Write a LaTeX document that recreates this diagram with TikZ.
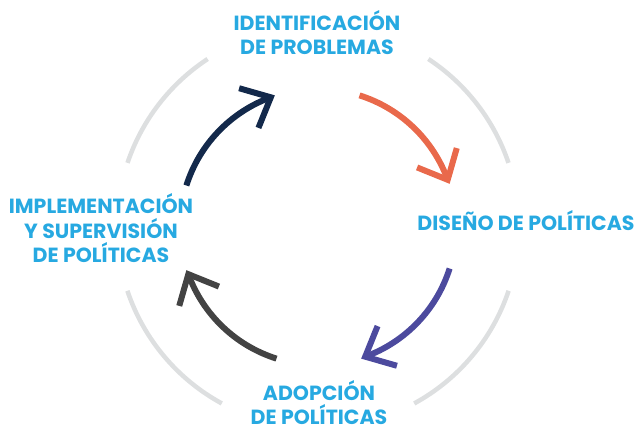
\documentclass[tikz,border=0pt]{standalone}
\usepackage{fontspec}
\setmainfont{Poppins}
\usetikzlibrary{calc}
\definecolor{navyc}{HTML}{13294B}
\definecolor{orangec}{HTML}{E9694B}
\definecolor{purplec}{HTML}{4C4A9E}
\definecolor{dgrayc}{HTML}{434343}
\definecolor{textblue}{HTML}{27A9E1}
\definecolor{ringgray}{HTML}{DDDFE0}
\tikzset{
  ringarc/.style={draw=ringgray, line width=4.5pt, line cap=butt},
  arrowline/.style={line width=6pt, line cap=butt, line join=miter},
  steplabel/.style={text=textblue, align=center, anchor=base, inner sep=0pt,
    font=\bfseries\fontsize{20.5}{24.8}\selectfont}
}
\begin{document}
\begin{tikzpicture}[x=1pt,y=1pt]
\useasboundingbox (0,0) rectangle (639,427);
\coordinate (C) at (318,200);
% light ring segments
\foreach \a/\b in {123.3/161.4, 18.6/56.7, 198.5/241.4, 298.6/341.5}{
  \draw[ringarc] ($(C)+(\a:201)$) arc[start angle=\a, end angle=\b, radius=201];
}
% cycle arrows
\foreach \s/\col/\n in {162.5/navyc/a, 72.5/orangec/b, -17.5/purplec/c, -107.5/dgrayc/d}{
  \pgfmathsetmacro\e{\s-52.5}
  \coordinate (s\n) at ($(C)+(\s:138)$);
  \coordinate (t\n) at ($(C)+(\e:138)$);
  \draw[arrowline, draw=\col] (s\n) arc[start angle=\s, end angle=\e, radius=138];
  \draw[arrowline, draw=\col] ($(t\n)+(\e+96+42:33)$) -- (t\n) -- ($(t\n)+(\e+96-42:33)$);
}
% labels (anchor = baseline of last line)
\node[steplabel] (ident) at (317,372) {IDENTIFICACIÓN\\DE PROBLEMAS};
\node[steplabel] (diseno) at (526,196) {DISEÑO DE POLÍTICAS};
\node[steplabel] (adop) at (319,2) {ADOPCIÓN\\DE POLÍTICAS};
\node[steplabel] (impl) at (101,164) {IMPLEMENTACIÓN\\Y SUPERVISIÓN\\DE POLÍTICAS};
\end{tikzpicture}
\end{document}
